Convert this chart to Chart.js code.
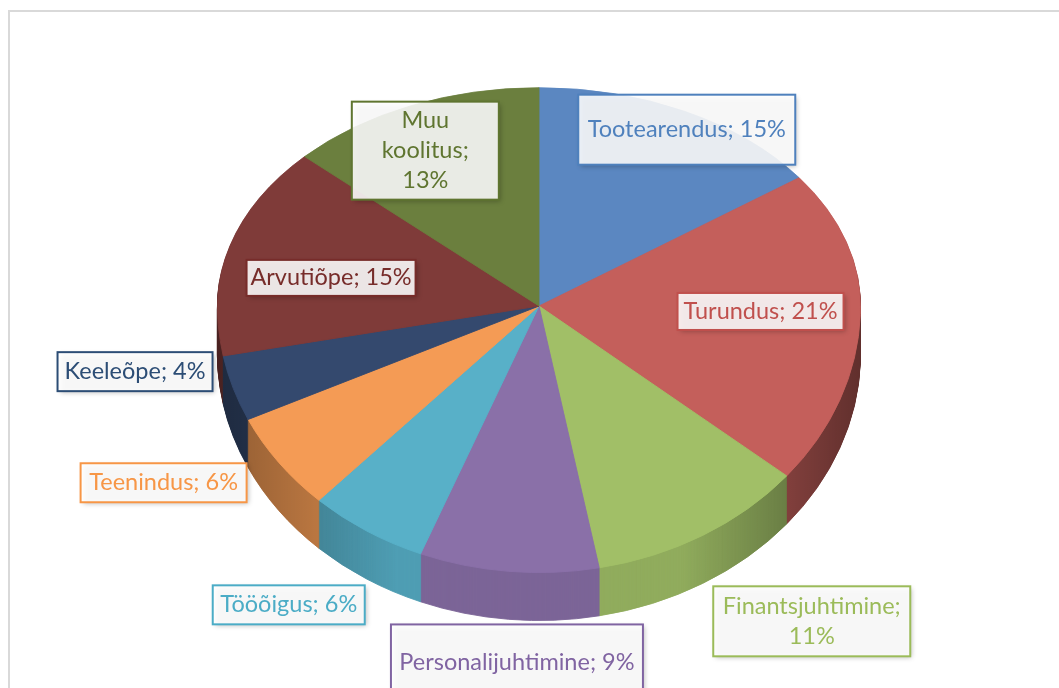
<!DOCTYPE html>
<html>
<head>
<meta charset="utf-8">
<script src="https://cdn.jsdelivr.net/npm/chart.js@4/dist/chart.umd.min.js"></script>
<style>
  body { margin: 0; background: #fff; overflow: hidden; }
  #frame { position: absolute; left: 8px; top: 10px; width: 1200px; height: 900px; border: 2px solid #d9d9d9; }
  #wrap { position: absolute; left: 0; top: 0; width: 1059px; height: 688px; }
</style>
</head>
<body>
<div id="frame"></div>
<div id="wrap"><canvas id="pieChart" width="1059" height="688"></canvas></div>
<script>
// Data
const categories = ["Tootearendus", "Turundus", "Finantsjuhtimine", "Personalijuhtimine", "Tööõigus", "Teenindus", "Keeleõpe", "Arvutiõpe", "Muu koolitus"];
const shares = [15, 21, 11, 9, 6, 6, 4, 15, 13];

// Office-style colours
const sliceColors = ["#5b87c1", "#c45f5b", "#a1bf67", "#8a70a8", "#58b0c8", "#f49b55", "#34496e", "#7f3b39", "#6b7f3e"];
const textColors = ["#4f81bd", "#c0504d", "#9bbb59", "#8064a2", "#4bacc6", "#f79646", "#2c4d75", "#772c2a", "#5f7530"];

// label boxes: offset from the slice's rim point, box size, wrap at spaces
const labelLayout = [
  { dx: 1.8, dy: 18.2, w: 217, h: 70, wrap: false },
  { dx: -99.8, dy: -2.9, w: 166, h: 37, wrap: false },
  { dx: 109.1, dy: 85.9, w: 197, h: 70, wrap: true },
  { dx: 8.2, dy: 91.1, w: 252, h: 76, wrap: false },
  { dx: -78, dy: 73.8, w: 152, h: 39, wrap: false },
  { dx: -115.3, dy: 20.1, w: 166, h: 39, wrap: false },
  { dx: -98.2, dy: -16.7, w: 155, h: 39, wrap: false },
  { dx: 100.8, dy: 32.8, w: 169, h: 36, wrap: false },
  { dx: 14, dy: 45, w: 147, h: 98, wrap: true },
];

// fake perspective: back half squashed more than front half
const tiltBack = 0.679;
const tiltFront = 0.829;
const centerY = 306;  // where the slices meet on screen
const depth = 48;     // thickness of the side wall, px

function shade(hex, f) {
  const n = parseInt(hex.slice(1), 16);
  const r = Math.round(((n >> 16) & 255) * f);
  const g = Math.round(((n >> 8) & 255) * f);
  const b = Math.round((n & 255) * f);
  return "rgb(" + r + "," + g + "," + b + ")";
}

// draw every arc with the two-half tilt, shifted down by dy
function drawTilted(chart, dy, side) {
  const ctx = chart.ctx;
  const meta = chart.getDatasetMeta(0);
  const cx = meta.data[0].x;
  const cy = meta.data[0].y;
  const W = chart.width, H = chart.height;
  [[0, centerY + dy, tiltBack], [centerY + dy, H, tiltFront]].forEach(([y0, y1, k]) => {
    ctx.save();
    ctx.beginPath();
    ctx.rect(0, y0, W, y1 - y0);
    ctx.clip();
    ctx.translate(cx, centerY + dy);
    ctx.scale(1, k);
    ctx.translate(-cx, -cy);
    meta.data.forEach((arc, i) => {
      if (side) {
        const o = arc.options;
        const bg = o.backgroundColor, bc = o.borderColor;
        o.backgroundColor = shade(sliceColors[i], 0.9);
        o.borderColor = o.backgroundColor;
        arc.draw(ctx);
        o.backgroundColor = bg;
        o.borderColor = bc;
      } else {
        arc.draw(ctx);
      }
    });
    ctx.restore();
  });
}

const tiltPlugin = {
  id: "tilt",
  beforeDatasetsDraw(chart) {
    const ctx = chart.ctx;
    for (let d = depth; d > 0; d--) {
      drawTilted(chart, d, true);
    }
    // darken the side wall towards its left and right ends
    const area = chart.chartArea;
    const g = ctx.createLinearGradient(area.left, 0, area.right, 0);
    g.addColorStop(0, "rgba(0,0,0,0.35)");
    g.addColorStop(0.28, "rgba(0,0,0,0)");
    g.addColorStop(0.72, "rgba(0,0,0,0)");
    g.addColorStop(1, "rgba(0,0,0,0.45)");
    ctx.save();
    ctx.globalCompositeOperation = "source-atop";
    ctx.fillStyle = g;
    ctx.fillRect(0, 0, chart.width, chart.height);
    ctx.restore();
    drawTilted(chart, 0, false);
    return false;
  },
  afterDraw(chart) {
    const ctx = chart.ctx;
    const meta = chart.getDatasetMeta(0);
    const total = shares.reduce((a, b) => a + b, 0);
    ctx.save();
    ctx.font = "23.5px Lato";
    ctx.textAlign = "center";
    ctx.textBaseline = "middle";
    meta.data.forEach((arc, i) => {
      const lay = labelLayout[i];
      const a = (arc.startAngle + arc.endAngle) / 2;
      const s = Math.sin(a);
      const px = arc.x + Math.cos(a) * arc.outerRadius + lay.dx;
      const py = centerY + s * arc.outerRadius * (s < 0 ? tiltBack : tiltFront) + lay.dy;
      const text = categories[i] + "; " + Math.round(shares[i] / total * 100) + "%";
      const lines = lay.wrap ? text.split(" ") : [text];

      ctx.save();
      ctx.shadowColor = "rgba(0,0,0,0.3)";
      ctx.shadowBlur = 5;
      ctx.shadowOffsetX = 2;
      ctx.shadowOffsetY = 2;
      ctx.fillStyle = "rgba(255,255,255,0.88)";
      ctx.fillRect(px - lay.w / 2, py - lay.h / 2, lay.w, lay.h);
      ctx.restore();
      ctx.strokeStyle = textColors[i];
      ctx.lineWidth = 2;
      ctx.strokeRect(px - lay.w / 2, py - lay.h / 2, lay.w, lay.h);

      ctx.fillStyle = textColors[i];
      const lh = 30;
      lines.forEach((ln, j) => {
        ctx.fillText(ln, px, py + (j - (lines.length - 1) / 2) * lh);
      });
    });
    ctx.restore();
  },
};

var ctx = document.getElementById("pieChart").getContext("2d");
var pieChart = new Chart(ctx, {
  type: "pie",
  data: {
    labels: categories,
    datasets: [
      {
        data: shares,
        backgroundColor: sliceColors,
        borderColor: sliceColors,
        borderWidth: 1,
      },
    ],
  },
  options: {
    responsive: false,
    animation: false,
    layout: { padding: { left: 217, right: 198, top: 8, bottom: 36 } },
    plugins: {
      legend: { display: false },
      tooltip: { enabled: false },
    },
  },
  plugins: [tiltPlugin],
});
</script>
</body>
</html>
